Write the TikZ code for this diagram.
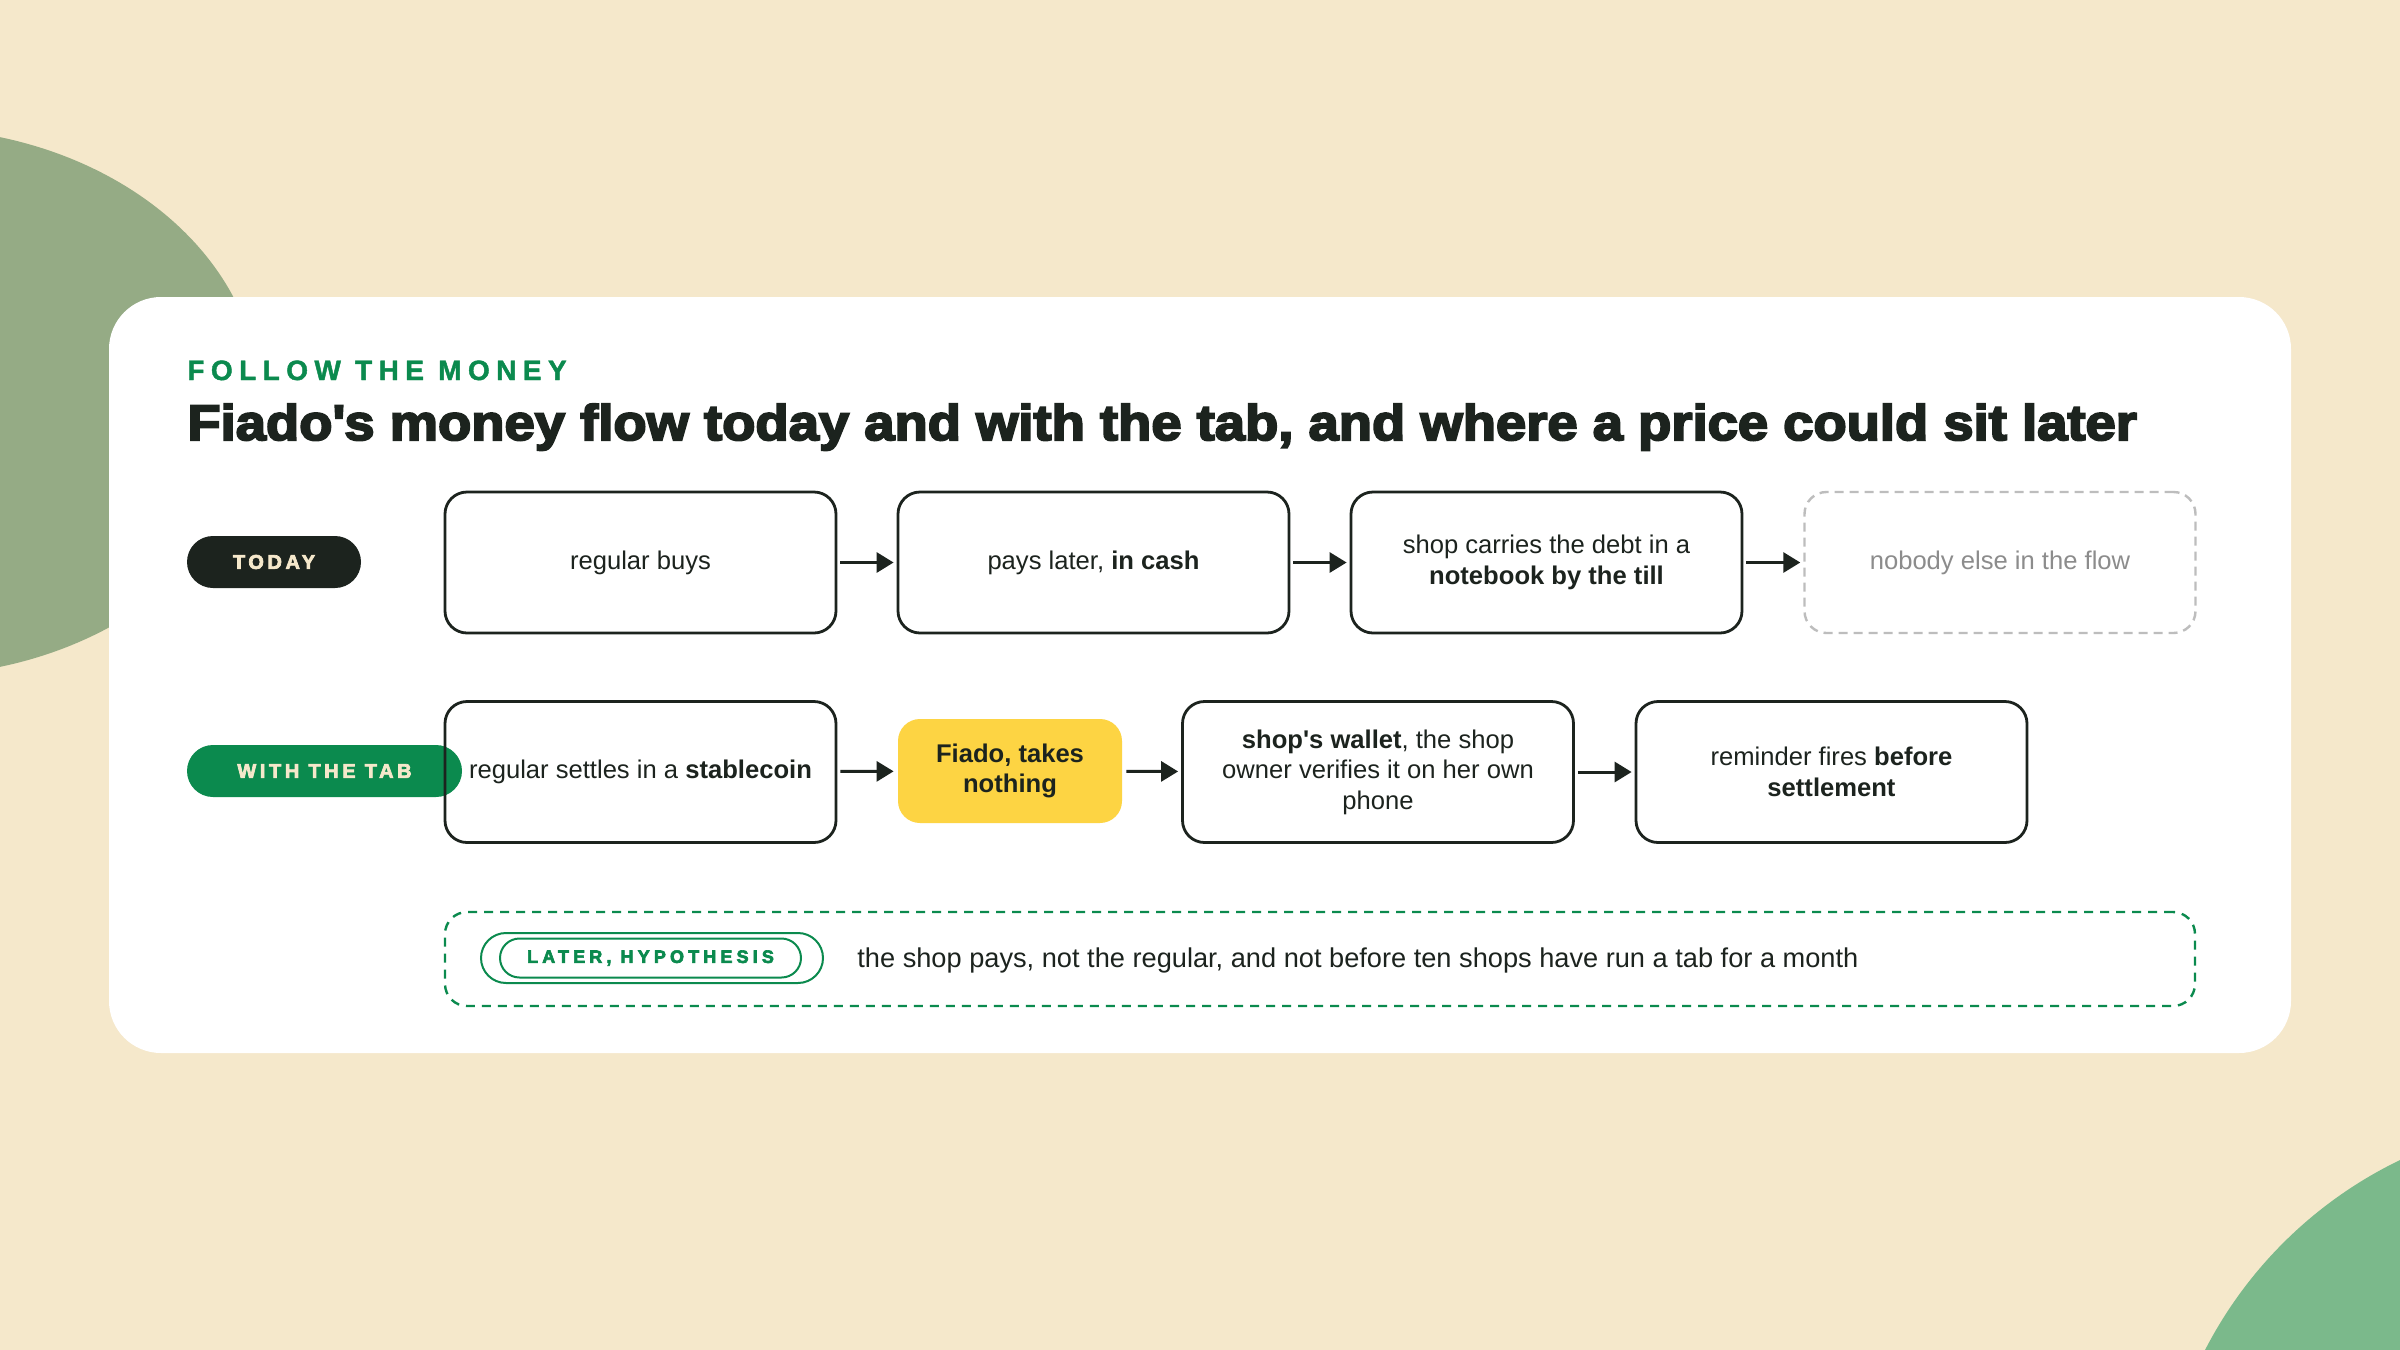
\documentclass[tikz,border=0pt]{standalone}
\usepackage{fontspec}
\setmainfont{Liberation Sans}
\newfontfamily\titlefont{Liberation Sans}[FakeStretch=1.088,FakeBold=4]
\newfontfamily\kickerfont{Liberation Sans}[LetterSpace=23,FakeBold=1.5]
\newfontfamily\pillfont{Liberation Sans}[LetterSpace=18,FakeBold=3.5]
\newfontfamily\laterfont{Liberation Sans}[LetterSpace=23,FakeBold=3.5]
\usetikzlibrary{arrows.meta, positioning}

\definecolor{cream}{HTML}{F5E8CB}
\definecolor{sage}{HTML}{95AB85}
\definecolor{mint}{HTML}{7BB98B}
\definecolor{ink}{HTML}{1C231E}
\definecolor{leaf}{HTML}{0B8A4E}
\definecolor{sun}{HTML}{FDD443}
\definecolor{ghost}{HTML}{BDBDBD}
\definecolor{ghosttext}{HTML}{8C8C8C}

\begin{document}
\begin{tikzpicture}[x=0.5pt, y=-0.5pt,
    flowbox/.style={draw=ink, line width=1.4pt, rounded corners=11pt, minimum width=195.5pt,
        minimum height=70.5pt, align=center, text=ink, font=\fontsize{12.8}{15.3}\selectfont},
    ghostbox/.style={flowbox, draw=ghost, line width=1.2pt, dash pattern=on 4.5pt off 3pt, text=ghosttext},
    pill/.style={rounded corners=13pt, minimum height=26pt, inner sep=0pt, text=cream,
        font=\pillfont\bfseries\fontsize{10}{12}\selectfont},
    link/.style={draw=ink, line width=1.5pt, -{Triangle[length=8.5pt,width=10pt]},
        shorten <=1.5pt, shorten >=1.5pt}
]
    \useasboundingbox (0,0) rectangle (2400,1350);
    \fill[cream] (0,0) rectangle (2400,1350);
    \begin{scope}
        \clip (0,0) rectangle (2400,1350);
        \fill[sage] (-90,402) ellipse [x radius=175pt, y radius=137pt];
        \fill[mint] (2585,1545) circle [radius=213.5pt];
    \end{scope}

    % card
    \fill[white, rounded corners=26pt] (109,297) rectangle (2291,1053);

    \node[anchor=base west, inner sep=0pt, text=leaf, font=\kickerfont\bfseries\fontsize{14}{16}\selectfont]
        (kicker) at (187,380) {FOLLOW THE MONEY};
    \node[anchor=base west, inner sep=0pt, text=ink, font=\titlefont\bfseries\fontsize{25}{30}\selectfont]
        (title) at (187,440) {Fiado\textquotesingle s money flow today and with the tab, and where a price could sit later};

    % today
    \node[pill, fill=ink, minimum width=87pt] (today) at (274,562) {TODAY};
    \node[flowbox] (today1) at (640.5,562.5) {regular buys};
    \node[flowbox] (today2) at (1093.5,562.5) {pays later, \textbf{in cash}};
    \node[flowbox] (today3) at (1546.5,562.5) {shop carries the debt in a\\\textbf{notebook by the till}};
    \node[ghostbox] (today4) at (2000,562.5) {nobody else in the flow};

    \draw[link] (today1) -- (today2);
    \draw[link] (today2) -- (today3);
    \draw[link] (today3) -- (today4);

    % with the tab
    \node[pill, fill=leaf, minimum width=137.5pt] (tab) at (324.5,771) {WITH THE TAB};
    \node[flowbox] (tab1) at (640.5,772) {regular settles in a \textbf{stablecoin}};
    \node[flowbox, draw=none, fill=sun, minimum width=112pt, minimum height=52pt, font=\bfseries\fontsize{12.8}{15.3}\selectfont]
        (tab2) at (1010,771) {Fiado, takes\\nothing};
    \node[flowbox] (tab3) at (1378,772) {\textbf{shop\textquotesingle s wallet}, the shop\\owner verifies it on her own\\phone};
    \node[flowbox] (tab4) at (1831.5,772) {reminder fires \textbf{before}\\\textbf{settlement}};

    \draw[link] (tab1) -- (tab2);
    \draw[link] (tab2) -- (tab3);
    \draw[link] (tab3) -- (tab4);

    % later
    \node[draw=leaf, line width=1.2pt, dash pattern=on 4.5pt off 3.5pt, rounded corners=11pt,
        minimum width=875pt, minimum height=47pt] (later) at (1320,959) {};
    \node[draw=leaf, line width=1pt, rounded corners=12.5pt, minimum width=171pt, minimum height=25pt]
        (hypring) at (652,958) {};
    \node[draw=leaf, line width=1pt, rounded corners=9.75pt, minimum width=150.5pt, minimum height=19.5pt,
        inner sep=0pt, text=leaf, font=\laterfont\bfseries\fontsize{9}{11}\selectfont]
        (hyp) at (650.5,958) {LATER, HYPOTHESIS};
    \node[anchor=west, inner sep=0pt, text=ink, font=\fontsize{13.6}{16}\selectfont]
        (note) at (857,960) {the shop pays, not the regular, and not before ten shops have run a tab for a month};
\end{tikzpicture}
\end{document}
